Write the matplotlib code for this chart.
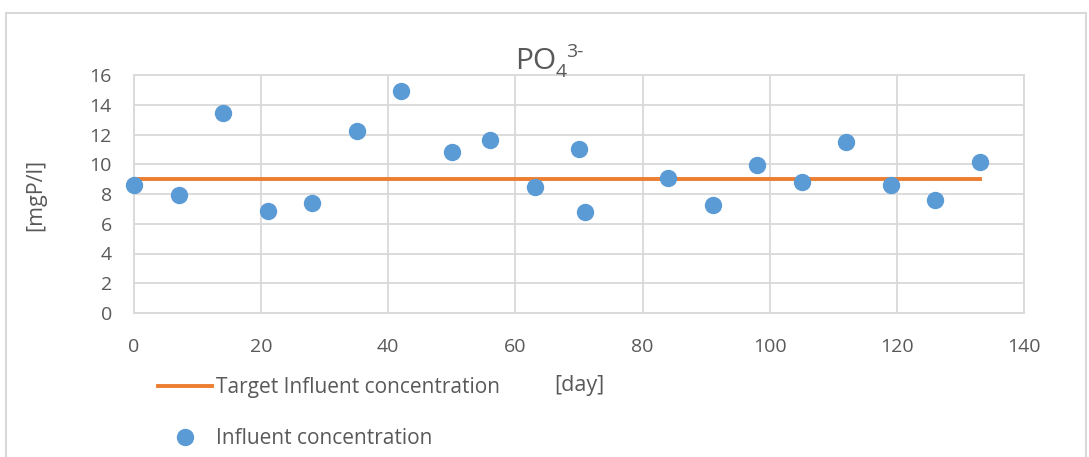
import numpy as np
import matplotlib.pyplot as plt
from matplotlib.patches import Rectangle

plt.rcParams['font.family'] = ['Open Sans', 'DejaVu Sans']

# dados
dias = [0, 7, 14, 21, 28, 35, 42, 50, 56, 63, 70, 71, 84, 91, 98, 105, 112, 119, 126, 133]
conc = [8.6, 7.9, 13.45, 6.85, 7.4, 12.25, 14.9, 10.8, 11.6, 8.5, 11.05, 6.8,
        9.1, 7.25, 9.95, 8.8, 11.5, 8.6, 7.6, 10.15]
alvo_x = [0, 133]
alvo_y = [9, 9]

cinza = '#595959'
W, H = 1089, 457
fig = plt.figure(figsize=(W/100, H/100), dpi=100)
ax = fig.add_axes([134/W, 1-313/H, 890/W, 238/H])

# borda do grafico
fig.patches.append(Rectangle((6/W, -0.1), 1080/W, 1.1 - 13/H, transform=fig.transFigure,
                             fill=False, edgecolor='#D9D9D9', linewidth=1.5))

ax.plot(alvo_x, alvo_y, color='#ED7D31', linewidth=2.8, label='Target Influent concentration', zorder=2)
ax.plot(dias, conc, 'o', color='#5B9BD5', markersize=11.5, label='Influent concentration',
        zorder=3, clip_on=False)

ax.set_xlim(0, 140)
ax.set_ylim(0, 16)
ax.set_xticks(np.arange(0, 141, 20))
ax.set_yticks(np.arange(0, 17, 2))
ax.grid(True, color='#D9D9D9', linewidth=1.3)
ax.set_axisbelow(True)
for s in ax.spines.values():
    s.set_color('#D9D9D9')
    s.set_linewidth(1.3)
ax.tick_params(axis='y', length=0, labelsize=14, colors=cinza, pad=16)
ax.tick_params(axis='x', length=0, labelsize=14, colors=cinza, pad=18)

# titulo PO4 3- montado em partes
fig.text(556/W, 1-69/H, 'PO', fontsize=21.5, color=cinza, ha='right', va='baseline')
fig.text(556/W, 1-77/H, '4', fontsize=14, color=cinza, ha='left', va='baseline')
fig.text(566/W, 1-57/H, '3-', fontsize=14, color=cinza, ha='left', va='baseline')

fig.text(579/W, 1-385/H, '[day]', fontsize=15.5, color=cinza, ha='center', va='center')
fig.text(36/W, 1-195/H, '[mgP/l]', fontsize=15.5, color=cinza, ha='center', va='center', rotation=90)

leg = fig.legend(loc='upper left', bbox_to_anchor=(158/W, 1-377/H), frameon=False,
                 fontsize=15, labelcolor=cinza, handlelength=2.6, handletextpad=0.2,
                 labelspacing=1.45, borderpad=0, borderaxespad=0)

plt.savefig('out.png', dpi=100)
